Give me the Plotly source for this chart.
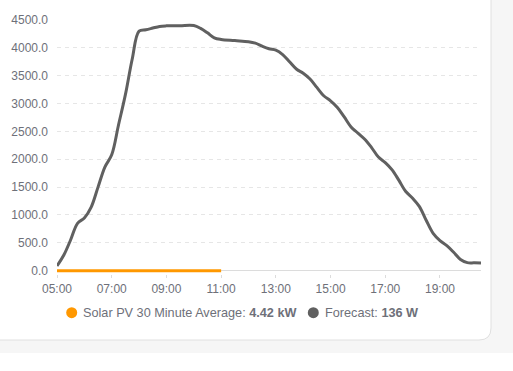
import plotly.graph_objects as go

DAY = "2024-06-01 "

# Forecast (W)
forecast_times = ["05:00", "05:15", "05:30", "05:45", "06:00", "06:15", "06:30", "06:45",
                  "07:00", "07:15", "07:30", "07:45", "08:00", "08:15", "08:30", "08:45",
                  "09:00", "09:30", "10:00", "10:15", "10:30", "10:45", "11:00", "11:30",
                  "12:00", "12:15", "12:30", "12:45", "13:00", "13:15", "13:30", "13:45",
                  "14:00", "14:15", "14:30", "14:45", "15:00", "15:15", "15:30", "15:45",
                  "16:00", "16:15", "16:30", "16:45", "17:00", "17:15", "17:30", "17:45",
                  "18:00", "18:15", "18:30", "18:45", "19:00", "19:15", "19:30", "19:45",
                  "20:00", "20:15", "20:30"]
forecast_values = [84, 280, 555, 850, 945, 1140, 1500, 1860,
                   2080, 2620, 3160, 3800, 4300, 4325, 4355, 4385,
                   4395, 4398, 4400, 4350, 4270, 4180, 4150, 4130,
                   4110, 4085, 4030, 3985, 3960, 3880, 3750, 3620,
                   3545, 3440, 3290, 3140, 3050, 2930, 2760, 2580,
                   2470, 2360, 2210, 2040, 1940, 1810, 1620, 1420,
                   1300, 1150, 900, 670, 540, 450, 330, 200,
                   144, 140, 136]

# Solar PV 30 minute average (W)
pv_times = ["05:00", "05:30", "06:00", "06:30", "07:00", "07:30", "08:00",
            "08:30", "09:00", "09:30", "10:00", "10:30", "11:00"]
pv_values = [0, 0, 0, 0, 0, 0, 0, 0, 0, 0, 0, 0, 0]

x_ticks = ["05:00", "07:00", "09:00", "11:00", "13:00", "15:00", "17:00", "19:00"]
y_ticks = [0, 500, 1000, 1500, 2000, 2500, 3000, 3500, 4000, 4500]

pv_label, pv_current = "Solar PV 30 Minute Average", "4.42 kW"
fc_label, fc_current = "Forecast", "136 W"

ORANGE = "#ff9800"
GREY = "#606060"
TEXT = "#6e7079"
FONT = "Arial, Liberation Sans, sans-serif"

W, H = 513, 371
L, R, T, B = 57, 32, 20, 97
PW, PH = W - L - R, H - T - B


def px(x):
    return (x - L) / PW


def py(y):
    return (H - B - y) / PH


fig = go.Figure()
fig.add_trace(go.Scatter(
    x=[DAY + t for t in forecast_times], y=forecast_values, mode="lines",
    line=dict(color=GREY, width=3, shape="spline", smoothing=1.0),
    showlegend=False, hoverinfo="skip"))
fig.add_trace(go.Scatter(
    x=[DAY + t for t in pv_times], y=pv_values, mode="lines",
    line=dict(color=ORANGE, width=3),
    showlegend=False, hoverinfo="skip"))

# card background
r = 12
xr, yb = 491, 340
card_path = (f"M {px(-30)},{py(-30)} L {px(xr)},{py(-30)} L {px(xr)},{py(yb - r)} "
             f"Q {px(xr)},{py(yb)} {px(xr - r)},{py(yb)} L {px(-30)},{py(yb)} Z")
shapes = [
    dict(type="rect", xref="paper", yref="paper", x0=px(-10), x1=px(W + 10),
         y0=py(353), y1=py(-10), fillcolor="#f6f6f6", line=dict(width=0), layer="below"),
    dict(type="path", xref="paper", yref="paper", path=card_path, fillcolor="white",
         line=dict(color="#e0e0e0", width=1), layer="below"),
]
# legend dots
leg_y = 312.7
for cx, col in [(71.7, ORANGE), (313.3, GREY)]:
    shapes.append(dict(type="circle", xref="paper", yref="paper",
                       x0=px(cx - 5.5), x1=px(cx + 5.5), y0=py(leg_y + 5.5), y1=py(leg_y - 5.5),
                       fillcolor=col, line=dict(width=0)))

annotations = [
    dict(xref="paper", yref="paper", x=px(81), y=py(leg_y), xanchor="left", yanchor="middle",
         showarrow=False, text=f"{pv_label}: <b>{pv_current}</b>",
         font=dict(family=FONT, size=12.7, color=TEXT)),
    dict(xref="paper", yref="paper", x=px(323), y=py(leg_y), xanchor="left", yanchor="middle",
         showarrow=False, text=f"{fc_label}: <b>{fc_current}</b>",
         font=dict(family=FONT, size=12.7, color=TEXT)),
]

fig.update_layout(
    width=W, height=H, margin=dict(l=L, r=R, t=T, b=B),
    paper_bgcolor="white", plot_bgcolor="rgba(0,0,0,0)",
    shapes=shapes, annotations=annotations, showlegend=False,
    font=dict(family=FONT, size=12, color=TEXT),
)
fig.update_xaxes(
    type="date", range=[DAY + "05:00", DAY + "20:30"],
    tickvals=[DAY + t for t in x_ticks], ticktext=x_ticks,
    showgrid=False, showline=False, zeroline=False,
    ticks="outside", ticklen=3, tickcolor="#dcdcdc", ticklabelstandoff=1,
    tickfont=dict(family=FONT, size=12, color=TEXT),
)
fig.update_yaxes(
    range=[-60, 4500], tickvals=y_ticks, tickformat=".1f",
    showgrid=True, gridcolor="#e6e6e6", griddash="4px,4px", gridwidth=1,
    zeroline=True, zerolinecolor="#dcdcdc", zerolinewidth=1,
    showline=False, ticks="", ticklabelstandoff=8,
    tickfont=dict(family=FONT, size=12, color=TEXT),
)

fig.write_html("out.html")
